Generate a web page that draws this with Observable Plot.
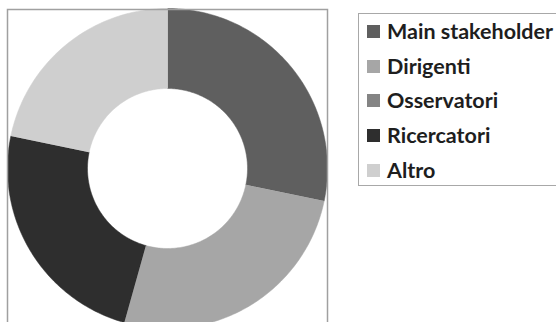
<!DOCTYPE html>
<html>
<head>
<meta charset="utf-8">
<script src="https://cdn.jsdelivr.net/npm/d3@7"></script>
<script src="https://cdn.jsdelivr.net/npm/@observablehq/plot@0.6"></script>
<style>
  html, body { margin: 0; padding: 0; background: #fff; overflow: hidden; }
  #wrap { position: relative; width: 556px; height: 322px; }
  #chart { position: absolute; left: 0; top: 0; }
  #legend {
    position: absolute; left: 358px; top: 13px; width: 220px; height: 173px;
    border: 1px solid #a8a8a8; box-sizing: border-box;
    font-family: Lato, "Open Sans", sans-serif; font-weight: bold; font-size: 21.5px; color: #1e1e1e;
  }
  .item { position: absolute; left: 8px; display: flex; align-items: center; height: 24px; white-space: nowrap; }
  .sw { width: 13px; height: 13px; margin-right: 7px; }
</style>
</head>
<body>
<div id="wrap">
  <div id="chart"></div>
  <div id="legend"></div>
</div>
<script>
const categories = ["Main stakeholder", "Dirigenti", "Osservatori", "Ricercatori", "Altro"];
const values = [13, 12, 0, 11, 10];
const colors = ["#5f5f5f", "#a6a6a6", "#848484", "#2e2e2e", "#cfcfcf"];

const data = categories.map((c, i) => ({cat: c, value: values[i]}));
const arcs = d3.pie().sort(null).value(d => d.value)(data);

const inner = 0.5, outer = 1;
const pts = [];
for (const a of arcs) {
  if (a.endAngle - a.startAngle <= 0) continue;
  const n = Math.max(2, Math.ceil((a.endAngle - a.startAngle) / (Math.PI / 180)));
  for (let k = 0; k <= n; k++) {
    const t = a.startAngle + (a.endAngle - a.startAngle) * k / n;
    pts.push({cat: a.data.cat, x: outer * Math.sin(t), y: outer * Math.cos(t)});
  }
  for (let k = n; k >= 0; k--) {
    const t = a.startAngle + (a.endAngle - a.startAngle) * k / n;
    pts.push({cat: a.data.cat, x: inner * Math.sin(t), y: inner * Math.cos(t)});
  }
}

const chart = Plot.plot({
  width: 340,
  height: 330,
  marginLeft: 7,
  marginRight: 13,
  marginTop: 9,
  marginBottom: 0,
  x: {domain: [-1, 1], axis: null},
  y: {domain: [-1.0125, 0.99375], axis: null},
  color: {domain: categories, range: colors},
  marks: [
    Plot.line(pts, {x: "x", y: "y", z: "cat", fill: "cat", stroke: "cat", strokeWidth: 0.5, curve: "linear"}),
    Plot.frame({stroke: "#a0a0a0", strokeWidth: 1.5})
  ]
});
document.getElementById("chart").appendChild(chart);

const legend = document.getElementById("legend");
const rowTops = [5, 40, 74, 109, 144];
categories.forEach((c, i) => {
  const item = document.createElement("div");
  item.className = "item";
  item.style.top = rowTops[i] + "px";
  const sw = document.createElement("div");
  sw.className = "sw";
  sw.style.background = colors[i];
  const tx = document.createElement("span");
  tx.textContent = c;
  item.appendChild(sw);
  item.appendChild(tx);
  legend.appendChild(item);
});
</script>
</body>
</html>
